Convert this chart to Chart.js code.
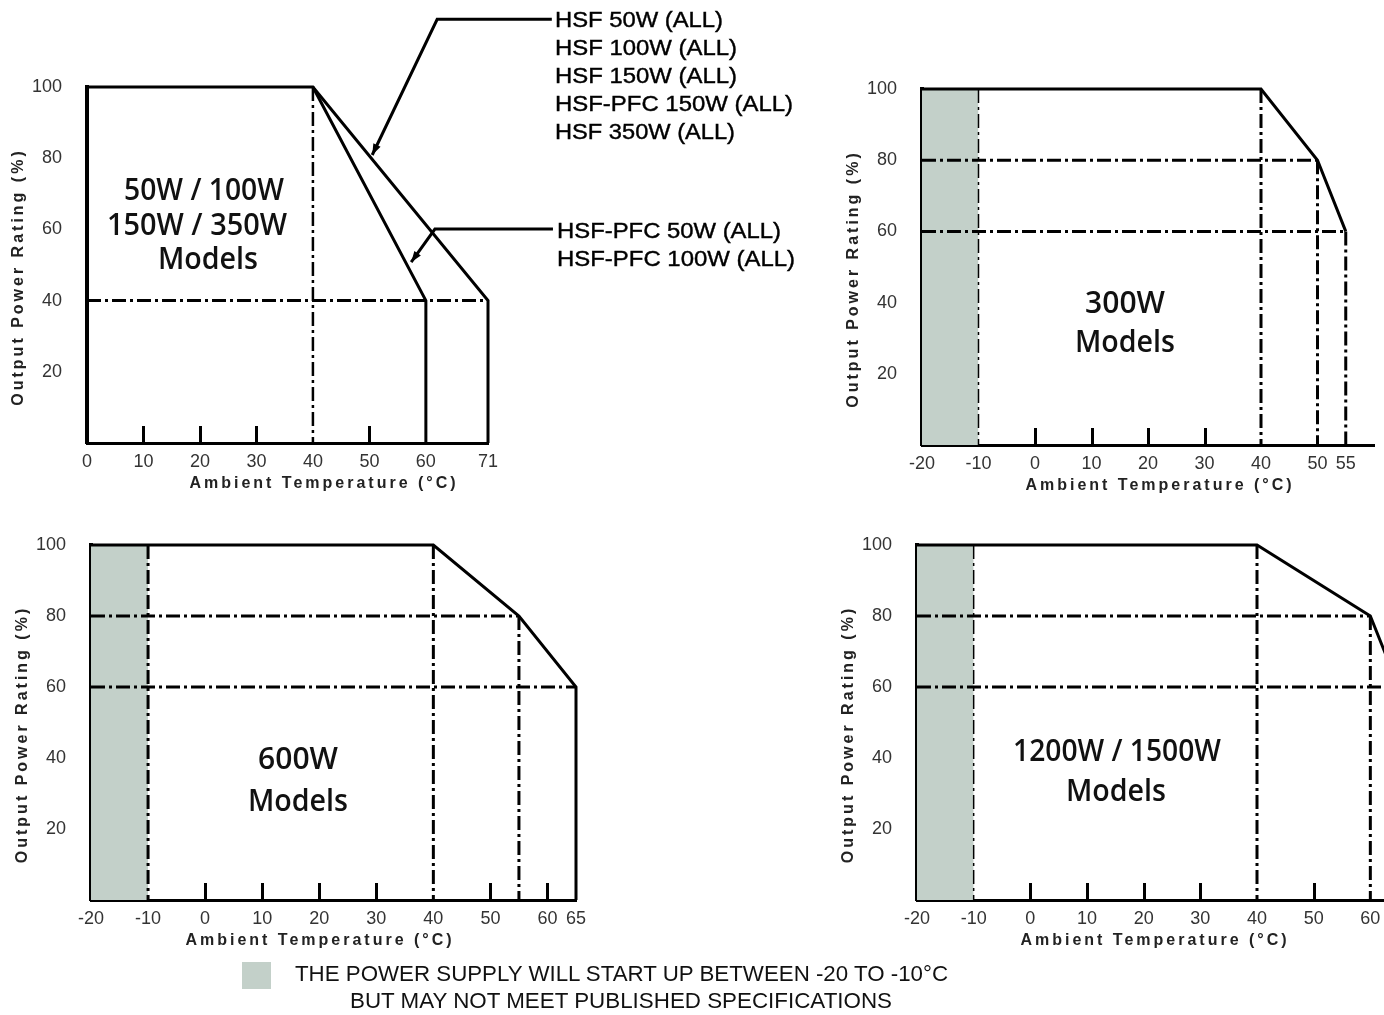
<!DOCTYPE html>
<html><head><meta charset="utf-8">
<script src="https://cdn.jsdelivr.net/npm/chart.js@4.4.0/dist/chart.umd.min.js"></script>
<style>
html,body{margin:0;padding:0;background:#fff;overflow:hidden;width:1384px;height:1015px;position:relative;}
canvas{position:absolute;left:0;top:0;}
.t{position:absolute;white-space:nowrap;line-height:1;transform-origin:left center;color:#111;}
.sw{position:absolute;background:#c3d0c9;}
</style></head><body>
<canvas id="c1"></canvas><canvas id="c2"></canvas><canvas id="c3"></canvas><canvas id="c4"></canvas>
<div class="sw" style="left:242px;top:962px;width:29px;height:27px"></div>
<script>
// ---------------- DATA ----------------
// Chart 1: 50W / 100W / 150W / 350W models
const c1_xTicks = [0, 10, 20, 30, 40, 50, 60, 71];
const c1_yTicks = [20, 40, 60, 80, 100];
const c1_tickMarks = [10, 20, 30, 50];
const c1_curveA_x = [0, 40, 71, 71];      // HSF 50/100/150/350W, HSF-PFC 150W
const c1_curveA_y = [100, 100, 40, 0];
const c1_curveB_x = [40, 60, 60];         // HSF-PFC 50W / 100W
const c1_curveB_y = [100, 40, 0];
const c1_refV = [[40, 100, 0]];           // [x, yFrom, yTo]
const c1_refH = [[40, 0, 71]];            // [y, xFrom, xTo]
const c1_leaderA_x = [82.3, 62, 50.5];
const c1_leaderA_y = [119, 119, 80.9];
const c1_leaderB_x = [82.5, 61.6, 57.4];
const c1_leaderB_y = [60.1, 60.1, 50.8];

// Chart 2: 300W models
const c2_xTicks = [-20, -10, 0, 10, 20, 30, 40, 50, 55];
const c2_yTicks = [20, 40, 60, 80, 100];
const c2_tickMarks = [0, 10, 20, 30];
const c2_curve_x = [-20, 40, 50, 55];
const c2_curve_y = [100, 100, 80, 60];
const c2_refV = [[40, 100, 0], [50, 80, 0], [55, 60, 0]];
const c2_startRef = [[-10, 100, 0]];
const c2_refH = [[80, -20, 50], [60, -20, 55]];
const c2_shade = [-20, -10];

// Chart 3: 600W models
const c3_xTicks = [-20, -10, 0, 10, 20, 30, 40, 50, 60, 65];
const c3_yTicks = [20, 40, 60, 80, 100];
const c3_tickMarks = [0, 10, 20, 30, 50, 60];
const c3_curve_x = [-20, 40, 55, 65, 65];
const c3_curve_y = [100, 100, 80, 60, 0];
const c3_refV = [[-10, 100, 0], [40, 100, 0], [55, 80, 0]];
const c3_refH = [[80, -20, 55], [60, -20, 65]];
const c3_shade = [-20, -10];

// Chart 4: 1200W / 1500W models
const c4_xTicks = [-20, -10, 0, 10, 20, 30, 40, 50, 60];
const c4_yTicks = [20, 40, 60, 80, 100];
const c4_tickMarks = [0, 10, 20, 30, 50];
const c4_curve_x = [-20, 40, 60, 65];
const c4_curve_y = [100, 100, 80, 60];
const c4_refV = [[40, 100, 0], [60, 80, 0]];
const c4_startRef = [[-10, 100, 0]];
const c4_refH = [[80, -20, 60], [60, -20, 70]];
const c4_shade = [-20, -10];

const SHADE_VALUE = [100, 100];

// ---------------- HELPERS ----------------
const FONT = '"Liberation Sans", Arial, Helvetica, sans-serif';
const GRAY = '#c3d0c9';
const DASH = [14, 4, 3, 4];
Chart.defaults.font.family = FONT;

function pts(xs, ys) { return xs.map((x, i) => ({x: x, y: ys[i]})); }
function solid(xs, ys, w) {
  return {data: pts(xs, ys), borderColor: '#000', borderWidth: w || 3, order: 1, clip: false};
}
function vRefs(arr, w) {
  return arr.map(r => ({data: pts([r[0], r[0]], [r[1], r[2]]), borderColor: '#000', borderWidth: w, borderDash: DASH, order: 5, clip: false}));
}
function hRefs(arr, w) {
  return arr.map(r => ({data: pts([r[1], r[2]], [r[0], r[0]]), borderColor: '#000', borderWidth: w, borderDash: DASH, order: 5, clip: false}));
}
function shade(xs) {
  return {data: pts(xs, SHADE_VALUE), fill: 'origin', backgroundColor: GRAY, borderColor: 'rgba(0,0,0,0)', borderWidth: 1, order: 10, clip: false};
}

const decoPlugin = {
  id: 'deco',
  afterDatasetsDraw(chart, args, o) {
    const {ctx, chartArea: a, scales: {x, y}} = chart;
    ctx.save();
    ctx.strokeStyle = '#000'; ctx.fillStyle = '#000';
    ctx.lineWidth = 3; ctx.lineCap = 'butt';
    (o.marks || []).forEach(v => {
      const px = Math.round(x.getPixelForValue(v)) + 0.5;
      ctx.beginPath(); ctx.moveTo(px, a.bottom); ctx.lineTo(px, a.bottom - 17); ctx.stroke();
    });
    (o.leaders || []).forEach(L => {
      const P = L.x.map((v, i) => [x.getPixelForValue(v), y.getPixelForValue(L.y[i])]);
      ctx.lineWidth = 3; ctx.lineJoin = 'miter';
      ctx.beginPath(); ctx.moveTo(P[0][0], P[0][1]);
      for (let i = 1; i < P.length; i++) ctx.lineTo(P[i][0], P[i][1]);
      ctx.stroke();
      const [x1, y1] = P[P.length - 2], [x2, y2] = P[P.length - 1];
      const ang = Math.atan2(y2 - y1, x2 - x1);
      ctx.beginPath();
      ctx.moveTo(x2, y2);
      ctx.lineTo(x2 - 11 * Math.cos(ang) + 4 * Math.sin(ang), y2 - 11 * Math.sin(ang) - 4 * Math.cos(ang));
      ctx.lineTo(x2 - 11 * Math.cos(ang) - 4 * Math.sin(ang), y2 - 11 * Math.sin(ang) + 4 * Math.cos(ang));
      ctx.closePath(); ctx.fill();
    });
    ctx.restore();
  },
  afterDraw(chart, args, o) {
    const {ctx, chartArea: a} = chart;
    ctx.save();
    ctx.fillStyle = '#222';
    ctx.font = 'bold 16px ' + FONT;
    try { ctx.letterSpacing = '3px'; } catch (e) {}
    ctx.textAlign = 'center'; ctx.textBaseline = 'middle';
    if (o.xTitle) ctx.fillText(o.xTitle, a.left + o.xTitleDx, a.bottom + 41);
    if (o.yTitle) {
      ctx.translate(a.left - 68, (a.top + a.bottom) / 2 + 12);
      ctx.rotate(-Math.PI / 2);
      ctx.fillText(o.yTitle, 0, 0);
    }
    ctx.restore();
  }
};

function build(id, W, H, area, xr, xTicks, yTicks, datasets, deco) {
  const YW = 60, XH = 40;
  const cv = document.getElementById(id);
  cv.width = W; cv.height = H; cv.style.width = W + 'px'; cv.style.height = H + 'px';
  return new Chart(cv, {
    type: 'line',
    data: {datasets: datasets},
    plugins: [decoPlugin],
    options: {
      responsive: false, animation: false, devicePixelRatio: 1,
      layout: {padding: {left: area.left - YW, top: area.top, right: W - area.right, bottom: H - area.bottom - XH}},
      plugins: {legend: {display: false}, tooltip: {enabled: false}, deco: deco},
      elements: {point: {radius: 0}, line: {tension: 0, borderCapStyle: 'butt', borderJoinStyle: 'miter', fill: false}},
      scales: {
        x: {type: 'linear', min: xr[0], max: xr[1],
            afterFit(s) { s.height = XH; },
            afterBuildTicks(s) { s.ticks = xTicks.map(v => ({value: v})); },
            grid: {display: false}, border: {display: true, width: 3, color: '#000'},
            ticks: {autoSkip: false, maxRotation: 0, minRotation: 0, padding: 0, color: '#333', font: {size: 18}}},
        y: {type: 'linear', min: 0, max: 100,
            afterFit(s) { s.width = YW; },
            afterBuildTicks(s) { s.ticks = yTicks.map(v => ({value: v})); },
            grid: {display: false}, border: {display: true, width: 4, color: '#000'},
            ticks: {padding: 17, color: '#333', font: {size: 18}}}
      }
    }
  });
}

const YT = 'Output Power Rating (%)';
const XT = 'Ambient Temperature (\u00B0C)';

build('c1', 1384, 1015, {left: 87, top: 87, right: 488, bottom: 443}, [0, 71], c1_xTicks, c1_yTicks,
  [solid(c1_curveA_x, c1_curveA_y), solid(c1_curveB_x, c1_curveB_y)].concat(vRefs(c1_refV, 2.5), hRefs(c1_refH, 3)),
  {marks: c1_tickMarks, xTitle: XT, yTitle: YT, xTitleDx: 237,
   leaders: [{x: c1_leaderA_x, y: c1_leaderA_y}, {x: c1_leaderB_x, y: c1_leaderB_y}]});

build('c2', 1384, 1015, {left: 922, top: 89, right: 1374, bottom: 445}, [-20, 60], c2_xTicks, c2_yTicks,
  [shade(c2_shade), solid(c2_curve_x, c2_curve_y)].concat(vRefs(c2_startRef, 1.5), vRefs(c2_refV, 3), hRefs(c2_refH, 3)),
  {marks: c2_tickMarks, xTitle: XT, yTitle: YT, xTitleDx: 238});

build('c3', 1384, 1015, {left: 91, top: 545, right: 576, bottom: 900}, [-20, 65], c3_xTicks, c3_yTicks,
  [shade(c3_shade), solid(c3_curve_x, c3_curve_y)].concat(vRefs(c3_refV, 3), hRefs(c3_refH, 3)),
  {marks: c3_tickMarks, xTitle: XT, yTitle: YT, xTitleDx: 229});

build('c4', 1500, 1015, {left: 917, top: 545, right: 1427, bottom: 900}, [-20, 70], c4_xTicks, c4_yTicks,
  [shade(c4_shade), solid(c4_curve_x, c4_curve_y)].concat(vRefs(c4_startRef, 1.5), vRefs(c4_refV, 3), hRefs(c4_refH, 3)),
  {marks: c4_tickMarks, xTitle: XT, yTitle: YT, xTitleDx: 238});

// ---------------- TEXT OVERLAYS ----------------
const MODEL_FONT = '600 30px "Open Sans", "Noto Sans", sans-serif';
const NOTE_FONT = '22px ' + FONT;
const LEG_FONT = '22px "Liberation Sans Narrow", ' + FONT;
const texts = [
  // [text, x, y, font, align, targetWidth, stroke]
  ['HSF 50W (ALL)', 555, 20, NOTE_FONT, 'left', 168, 0.4],
  ['HSF 100W (ALL)', 555, 48, NOTE_FONT, 'left', 182, 0.4],
  ['HSF 150W (ALL)', 555, 76, NOTE_FONT, 'left', 182, 0.4],
  ['HSF-PFC 150W (ALL)', 555, 104, NOTE_FONT, 'left', 238, 0.4],
  ['HSF 350W (ALL)', 555, 132, NOTE_FONT, 'left', 180, 0.4],
  ['HSF-PFC 50W (ALL)', 557, 231, NOTE_FONT, 'left', 224, 0.4],
  ['HSF-PFC 100W (ALL)', 557, 259, NOTE_FONT, 'left', 238, 0.4],
  ['50W / 100W', 204, 189, MODEL_FONT, 'center', 160, 0],
  ['150W / 350W', 197, 224, MODEL_FONT, 'center', 180, 0],
  ['Models', 208, 258, MODEL_FONT, 'center', 100, 0],
  ['300W', 1125, 302, MODEL_FONT, 'center', 80, 0],
  ['Models', 1125, 341, MODEL_FONT, 'center', 100, 0],
  ['600W', 298, 758, MODEL_FONT, 'center', 80, 0],
  ['Models', 298, 800, MODEL_FONT, 'center', 100, 0],
  ['1200W / 1500W', 1117, 750, MODEL_FONT, 'center', 208, 0],
  ['Models', 1116, 790, MODEL_FONT, 'center', 100, 0],
  ['THE POWER SUPPLY WILL START UP BETWEEN -20 TO -10\u00B0C', 295, 974, LEG_FONT, 'left', 653, 0],
  ['BUT MAY NOT MEET PUBLISHED SPECIFICATIONS', 621, 1001, LEG_FONT, 'center', 542, 0]
];
texts.forEach(([s, x, y, f, al, tw, st]) => {
  const d = document.createElement('div');
  d.className = 't'; d.textContent = s; d.style.font = f; d.style.lineHeight = '1';
  if (st) { d.style.webkitTextStroke = st + 'px #000'; d.style.color = '#000'; }
  document.body.appendChild(d);
  const r = d.getBoundingClientRect();
  const k = tw ? tw / r.width : 1;
  const left = al === 'center' ? x - r.width * k / 2 : x;
  d.style.left = left + 'px';
  d.style.top = (y - r.height / 2) + 'px';
  d.style.transform = 'scaleX(' + k + ')';
});
</script>
</body></html>
